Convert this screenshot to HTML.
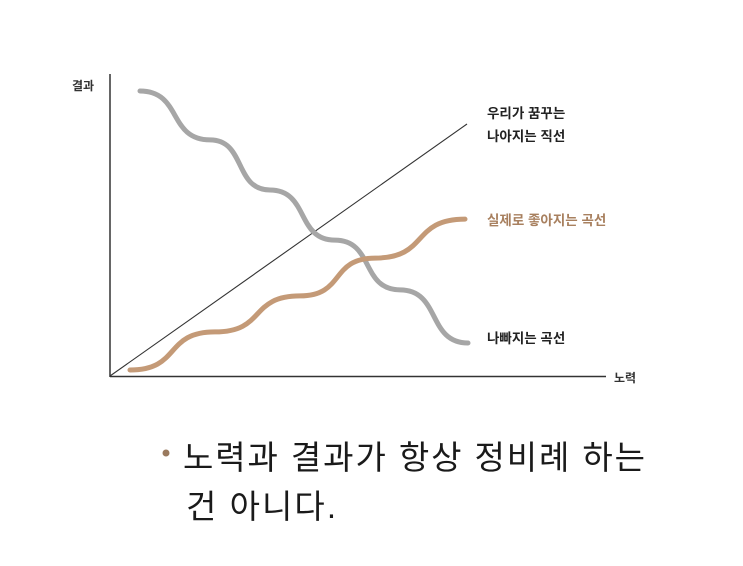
<!DOCTYPE html>
<html><head><meta charset="utf-8"><style>
html,body{margin:0;padding:0;background:#fff;}
svg{display:block;font-family:"Liberation Sans","Noto Sans CJK KR",sans-serif;}
</style></head><body>
<svg width="743" height="566" viewBox="0 0 743 566">
<g id="axes">
  <line x1="110" y1="74" x2="110" y2="377" stroke="#333" stroke-width="1.5"/>
  <line x1="110" y1="376.5" x2="606" y2="376.5" stroke="#333" stroke-width="1.5"/>
  <text x="72" y="90" font-size="12" font-weight="bold" fill="#333">결과</text>
  <text x="614" y="382" font-size="12" font-weight="bold" fill="#333">노력</text>
</g>
<g id="series"></g>
<g id="labels">
  <text x="487" y="118" font-size="13.5" font-weight="bold" fill="#222">우리가 꿈꾸는</text>
  <text x="487" y="141" font-size="13.5" font-weight="bold" fill="#222">나아지는 직선</text>
  <text x="487" y="225" font-size="13.5" font-weight="bold" fill="#a8805f">실제로 좋아지는 곡선</text>
  <text x="487" y="343" font-size="13.5" font-weight="bold" fill="#222">나빠지는 곡선</text>
</g>
<g>
  <circle cx="166" cy="453" r="3.5" fill="#9a7a5e"/>
  <text x="183" y="469" font-size="33" fill="#1a1a1a" textLength="462" lengthAdjust="spacing">노력과 결과가 항상 정비례 하는</text>
  <text x="186" y="518" font-size="33" fill="#1a1a1a" textLength="150" lengthAdjust="spacing">건 아니다.</text>
</g>
</svg>
<script>
// domain: effort 0..100, result 0..100
const idealX = [0, 71.4];
const idealY = [0, 84];
const worseX = [6, 20, 32, 45, 58, 71.6];
const worseY = [95, 78.7, 62, 45.3, 28.7, 11];
const actualX = [4, 21, 38, 53, 71];
const actualY = [2, 14.7, 26.7, 39.3, 52.3];

const xs = v => 110 + v * 5;
const ys = v => 376 - v * 3;
const NS = "http://www.w3.org/2000/svg";
const g = document.getElementById('series');

function stepPath(X, Y) {
  let d = `M${xs(X[0])},${ys(Y[0])}`;
  for (let i = 1; i < X.length; i++) {
    const x0 = xs(X[i-1]), y0 = ys(Y[i-1]), x1 = xs(X[i]), y1 = ys(Y[i]);
    const dx = x1 - x0;
    d += ` C${x0 + dx*0.6},${y0} ${x1 - dx*0.6},${y1} ${x1},${y1}`;
  }
  return d;
}

const ideal = document.createElementNS(NS, 'line');
ideal.setAttribute('x1', xs(idealX[0])); ideal.setAttribute('y1', ys(idealY[0]));
ideal.setAttribute('x2', xs(idealX[1])); ideal.setAttribute('y2', ys(idealY[1]));
ideal.setAttribute('stroke', '#333'); ideal.setAttribute('stroke-width', '1.1');


g.appendChild(ideal);

const worse = document.createElementNS(NS, 'path');
worse.setAttribute('d', stepPath(worseX, worseY));
worse.setAttribute('fill', 'none'); worse.setAttribute('stroke', '#a6a6a6');
worse.setAttribute('stroke-width', '5'); worse.setAttribute('stroke-linecap', 'round');


g.appendChild(worse);

const actual = document.createElementNS(NS, 'path');
actual.setAttribute('d', stepPath(actualX, actualY));
actual.setAttribute('fill', 'none'); actual.setAttribute('stroke', '#c49a77');
actual.setAttribute('stroke-width', '5'); actual.setAttribute('stroke-linecap', 'round');


g.appendChild(actual);
</script>
</body></html>
